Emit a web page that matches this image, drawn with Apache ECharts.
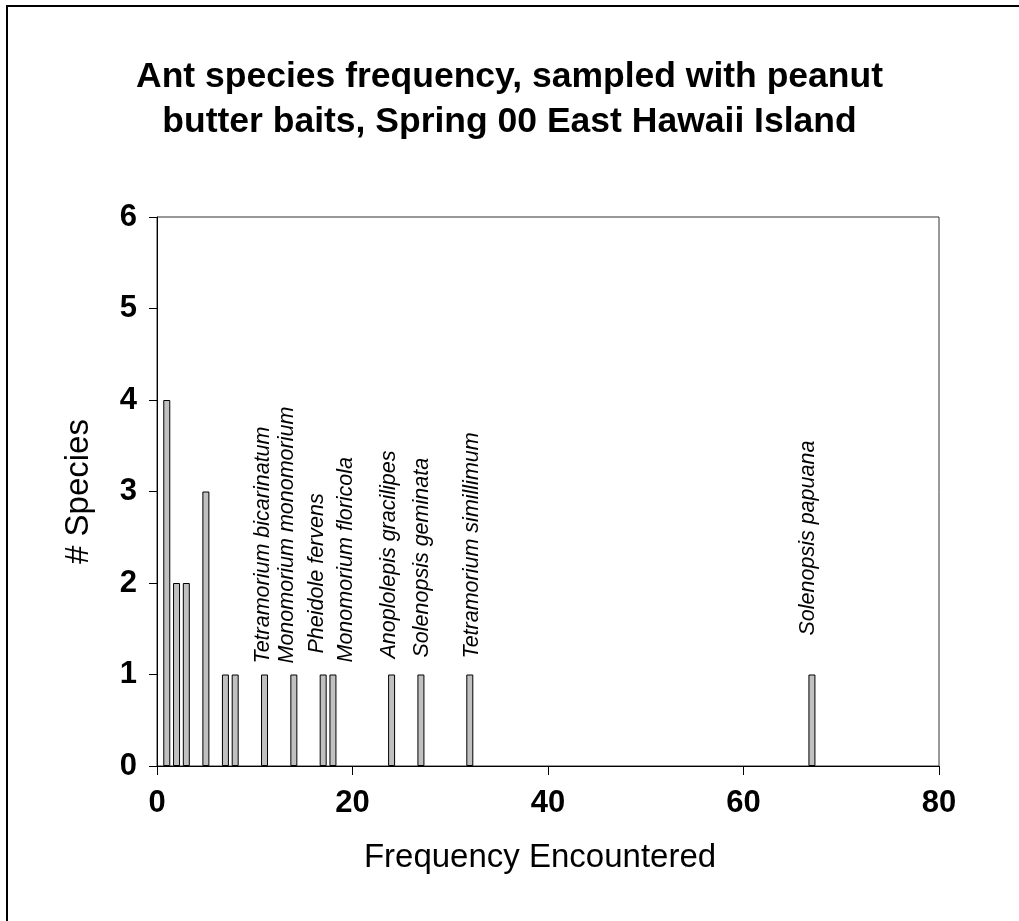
<!DOCTYPE html>
<html>
<head>
<meta charset="utf-8">
<script src="https://cdn.jsdelivr.net/npm/echarts@6/dist/echarts.min.js"></script>
<style>
  html, body { margin: 0; padding: 0; background: #fff; }
  #main { width: 1019px; height: 921px; }
</style>
</head>
<body>
<div id="main"></div>
<script>
// frequency (number of baits) and how many species had that frequency
const frequency = [1, 2, 3, 5, 7, 8, 11, 14, 17, 18, 24, 27, 32, 67];
const speciesCount = [4, 2, 2, 3, 1, 1, 1, 1, 1, 1, 1, 1, 1, 1];
const speciesNames = [
  "", "", "", "", "", "",
  "Tetramorium bicarinatum",
  "Monomorium monomorium",
  "Pheidole fervens",
  "Monomorium floricola",
  "Anoplolepis gracilipes",
  "Solenopsis geminata",
  "Tetramorium simillimum",
  "Solenopsis papuana",
];
const yTicks = [0, 1, 2, 3, 4, 5, 6];
const xTicks = [0, 20, 40, 60, 80];

// label nudges in px: [horizontal shift, gap above bar]
const labelNudge = {
  "Tetramorium bicarinatum": [-2, 11],
  "Monomorium monomorium": [-7, 11],
  "Pheidole fervens": [-6, 21],
  "Monomorium floricola": [13, 12],
  "Anoplolepis gracilipes": [-3, 16],
  "Solenopsis geminata": [1, 17],
  "Tetramorium simillimum": [2, 16],
  "Solenopsis papuana": [-4, 39],
};

const FONT = "'Liberation Sans', Arial, sans-serif";
const BAR_W = 7;

const barData = frequency.map((f, i) => {
  const name = speciesNames[i];
  const item = { value: [f, speciesCount[i]], name: name };
  if (name) {
    const n = labelNudge[name];
    item.label = {
      show: true,
      position: [BAR_W / 2 + n[0], -n[1]],
      rotate: 90,
      align: "left",
      verticalAlign: "middle",
      formatter: name,
      fontFamily: FONT,
      fontStyle: "italic",
      fontSize: 21.5,
      color: "#000",
    };
  }
  return item;
});

const chart = echarts.init(document.getElementById("main"), null, { renderer: "canvas" });

chart.setOption({
  backgroundColor: "#fff",
  animation: false,
  title: {
    text: "Ant species frequency, sampled with peanut\nbutter baits, Spring 00 East Hawaii Island",
    left: "center",
    top: 50,
    textStyle: {
      fontFamily: FONT,
      fontWeight: "bold",
      fontSize: 35.5,
      lineHeight: 45,
      color: "#000",
    },
  },
  grid: {
    left: 157,
    right: 80,
    top: 217,
    bottom: 155,
    show: true,
    borderColor: "#333",
    borderWidth: 1,
  },
  xAxis: {
    type: "value",
    min: xTicks[0],
    max: xTicks[xTicks.length - 1],
    interval: 20,
    name: "Frequency Encountered",
    nameLocation: "middle",
    nameGap: 75,
    nameTextStyle: {
      fontFamily: FONT,
      fontSize: 33,
      color: "#000",
      padding: [0, 16, 0, 0],
    },
    axisLine: { show: true, onZero: false, lineStyle: { color: "#000", width: 1 } },
    axisTick: { show: true, inside: false, length: 9, lineStyle: { color: "#000" } },
    axisLabel: {
      margin: 22,
      fontFamily: FONT,
      fontWeight: "bold",
      fontSize: 31,
      color: "#000",
    },
    splitLine: { show: false },
  },
  yAxis: {
    type: "value",
    min: yTicks[0],
    max: yTicks[yTicks.length - 1],
    interval: 1,
    name: "# Species",
    nameLocation: "middle",
    nameGap: 62,
    nameRotate: 90,
    nameTextStyle: {
      fontFamily: FONT,
      fontSize: 33,
      color: "#000",
    },
    axisLine: { show: true, lineStyle: { color: "#000", width: 1 } },
    axisTick: { show: true, inside: false, length: 8, lineStyle: { color: "#000" } },
    axisLabel: {
      margin: 20,
      fontFamily: FONT,
      fontWeight: "bold",
      fontSize: 31,
      color: "#000",
    },
    splitLine: { show: false },
  },
  series: [
    {
      type: "bar",
      barWidth: BAR_W,
      data: barData,
      itemStyle: {
        color: "#c0c0c0",
        borderColor: "#000",
        borderWidth: 1,
      },
      label: { show: false },
    },
  ],
  graphic: [
    {
      type: "polyline",
      shape: { points: [[7, 921], [7, 6], [1019, 6]] },
      style: { stroke: "#000", lineWidth: 2, fill: null },
    },
  ],
});
</script>
</body>
</html>
